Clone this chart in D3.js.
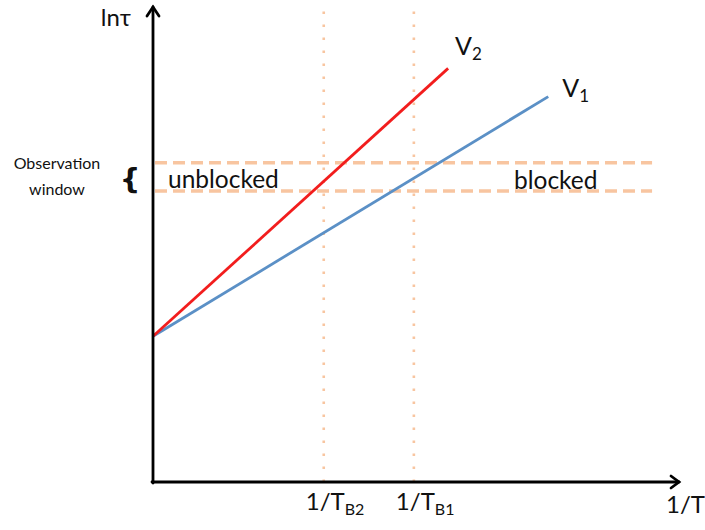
<!DOCTYPE html>
<html>
<head>
<meta charset="utf-8">
<script src="https://cdn.jsdelivr.net/npm/d3@7"></script>
<style>
  html, body { margin: 0; padding: 0; background: #fff; }
  svg { display: block; }
  text { font-family: Lato, "Open Sans", sans-serif; fill: #111; }
</style>
</head>
<body>
<svg id="chart" width="705" height="530"></svg>
<script>
// Schematic: ln(tau) versus 1/T for two fields V1 and V2
const lineNames = ["V1", "V2"];
const lineColors = ["#5b90c6", "#f21d1d"];
// endpoints in (1/T, ln tau) chart units
const v1Points = [[0, 31], [75, 82]];
const v2Points = [[0, 31], [56, 88]];
// observation window bounds on ln tau
const windowBounds = [61.9, 67.9];
// blocking temperatures (1/T positions)
const blockingX = [32.4, 49.5];
const blockingLabels = [["1/T", "B2"], ["1/T", "B1"]];

const svg = d3.select("#chart");
const x = d3.scaleLinear().domain([0, 100]).range([153, 680]);
const y = d3.scaleLinear().domain([0, 100]).range([482, 12]);

const guide = "#f8c5a0";

// vertical dotted lines at the blocking temperatures
svg.selectAll("line.vguide").data(blockingX).enter().append("line")
  .attr("class", "vguide")
  .attr("x1", d => x(d)).attr("x2", d => x(d))
  .attr("y1", y(0)).attr("y2", y(100) - 2)
  .attr("stroke", guide).attr("stroke-width", 2.6)
  .attr("stroke-dasharray", "2.6,10.4");

// observation window dashed lines
svg.selectAll("line.hguide").data(windowBounds).enter().append("line")
  .attr("class", "hguide")
  .attr("x1", x(0) + 2).attr("x2", x(94.7))
  .attr("y1", d => y(d)).attr("y2", d => y(d))
  .attr("stroke", guide).attr("stroke-width", 3.5)
  .attr("stroke-dasharray", "12,6");

// the two lines
const line = d3.line().x(d => x(d[0])).y(d => y(d[1]));
[v1Points, v2Points].forEach((pts, i) => {
  svg.append("path").datum(pts)
    .attr("d", line)
    .attr("fill", "none")
    .attr("stroke", lineColors[i])
    .attr("stroke-width", 2.8);
});

// axes with open arrowheads
const axisG = svg.append("g").attr("stroke", "#000").attr("fill", "none")
  .attr("stroke-width", 2.8).attr("stroke-linecap", "round");
axisG.append("line").attr("x1", x(0)).attr("y1", y(0) + 1).attr("x2", x(0)).attr("y2", y(100) - 5);
axisG.append("line").attr("x1", x(0) - 1).attr("y1", y(0)).attr("x2", x(100) - 1).attr("y2", y(0));
axisG.append("path")
  .attr("d", `M${x(0) - 6},${y(100) + 4} L${x(0)},${y(100) - 5} L${x(0) + 6},${y(100) + 4}`)
  .attr("stroke-linejoin", "miter");
axisG.append("path")
  .attr("d", `M${x(100) - 9},${y(0) - 6} L${x(100) - 1},${y(0)} L${x(100) - 9},${y(0) + 6}`)
  .attr("stroke-linejoin", "miter");

// axis titles
svg.append("text").attr("x", 131).attr("y", 26).attr("text-anchor", "end")
  .attr("font-size", 24).text("lnτ");
svg.append("text").attr("x", 705).attr("y", 513).attr("text-anchor", "end")
  .attr("font-size", 24).text("1/T");

// blocking temperature labels
blockingLabels.forEach((lab, i) => {
  const t = svg.append("text").attr("x", x(blockingX[i]) - 18).attr("y", 510)
    .attr("font-size", 24);
  t.append("tspan").text(lab[0]);
  t.append("tspan").attr("font-size", 16).attr("dy", 5).text(lab[1]);
});

// line labels
const labelPos = [[v1Points[1], 14, 0], [v2Points[1], 7, -13]];
labelPos.forEach((p, i) => {
  const t = svg.append("text")
    .attr("x", x(p[0][0]) + p[1]).attr("y", y(p[0][1]) + p[2])
    .attr("font-size", 25);
  t.append("tspan").text("V");
  t.append("tspan").attr("font-size", 17).attr("dy", 5).text(lineNames[i].slice(1));
});

// region labels
svg.append("text").attr("x", 168).attr("y", 188).attr("font-size", 24.5).text("unblocked");
svg.append("text").attr("x", 514).attr("y", 189).attr("font-size", 24.5).text("blocked");

// observation window annotation
svg.append("text").attr("x", 57).attr("y", 169).attr("text-anchor", "middle")
  .attr("font-size", 16).text("Observation");
svg.append("text").attr("x", 57).attr("y", 195).attr("text-anchor", "middle")
  .attr("font-size", 16).text("window");
svg.append("text").attr("x", 130).attr("y", 189).attr("text-anchor", "middle")
  .style("font-family", "'DejaVu Sans', sans-serif")
  .attr("font-size", 29).attr("font-weight", "bold").text("{");
</script>
</body>
</html>
